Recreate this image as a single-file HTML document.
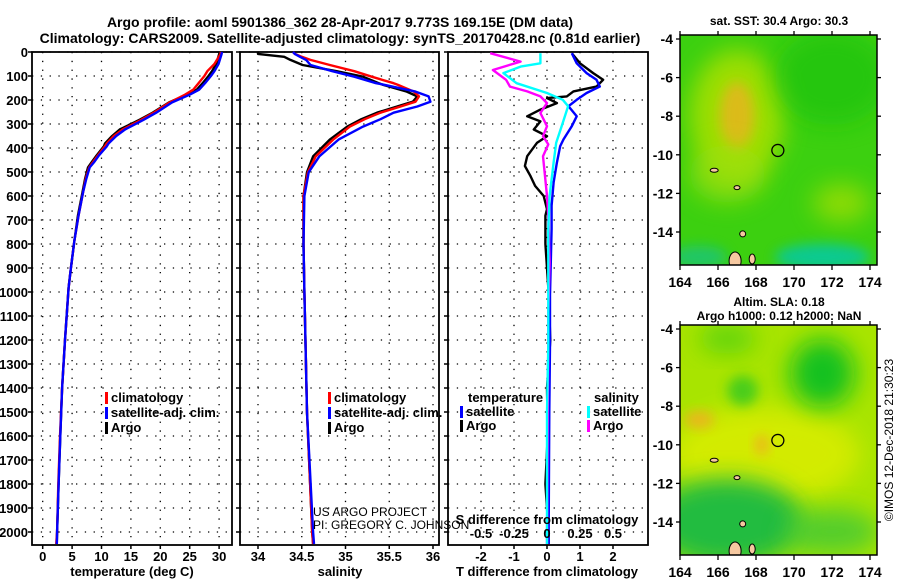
<!DOCTYPE html>
<html><head><meta charset="utf-8">
<style>
html,body{margin:0;padding:0;background:#fff;}
svg{display:block;font-family:"Liberation Sans",sans-serif;}
text{font-weight:bold;font-size:13px;fill:#000;}
</style></head>
<body>
<svg id="fig" width="900" height="580" viewBox="0 0 900 580" xmlns="http://www.w3.org/2000/svg">
<defs>
<filter id="blur6" x="-50%" y="-50%" width="200%" height="200%"><feGaussianBlur stdDeviation="6"/></filter>
<filter id="blur12" x="-50%" y="-50%" width="200%" height="200%"><feGaussianBlur stdDeviation="12"/></filter>
<clipPath id="m1clip"><rect x="680" y="35" width="197" height="230"/></clipPath>
<clipPath id="m2clip"><rect x="680" y="325" width="197" height="230"/></clipPath>
</defs>
<text x="340" y="27" text-anchor="middle" style="font-size:14px">Argo profile: aoml 5901386_362 28-Apr-2017 9.773S 169.15E (DM data)</text>
<text x="340" y="43" text-anchor="middle" style="font-size:14px">Climatology: CARS2009. Satellite-adjusted climatology: synTS_20170428.nc (0.81d earlier)</text>
<g id="panels"></g>
<g id="maps"></g>
</svg>
<script>
// ---------- data ----------
const depthLabels = [0,100,200,300,400,500,600,700,800,900,1000,1100,1200,1300,1400,1500,1600,1700,1800,1900,2000];
const tempTicks = [0,5,10,15,20,25,30];
const salTicks = [34,34.5,35,35.5,36];
const dTTicks = [-2,-1,0,1,2];
const dSTicks = [-0.5,-0.25,0,0.25,0.5];
const dSTickLabels = ["-0.5","-0.25","0","0.25","0.5"];

const depthT = [0,10,50,80,100,130,157,178,210,253,282,323,350,381,393,430,460,481,530,580,680,783,900,982,1200,1400,1600,1800,2000,2050];
const argoT = [30.1,30.0,29.5,28.8,28.2,27.2,26.2,24.5,21.5,18.7,16.5,13.1,11.8,10.6,10.4,9.2,8.3,7.7,7.2,6.8,6.0,5.4,4.8,4.4,3.8,3.3,3.0,2.7,2.45,2.4];
const climT = [30.3,30.2,29.2,28.0,27.5,26.5,25.6,24.2,21.6,18.9,16.8,13.6,12.1,10.9,10.6,9.4,8.5,7.9,7.3,6.9,6.1,5.4,4.8,4.4,3.8,3.3,2.95,2.65,2.45,2.3];
const satT = [30.5,30.4,29.9,29.2,28.6,27.6,26.6,25.0,22.0,19.3,17.2,14.0,12.5,11.2,10.9,9.6,8.7,8.0,7.4,6.9,6.1,5.4,4.8,4.4,3.8,3.3,3.0,2.7,2.45,2.4];

const depthS = [0,8,20,33,54,80,103,130,137,165,185,207,227,253,280,311,365,435,501,600,800,1000,1500,2000,2050];
const argoS = [34.0,34.0,34.3,34.37,34.51,34.9,35.2,35.38,35.43,35.7,35.82,35.77,35.59,35.36,35.18,35.02,34.82,34.63,34.56,34.52,34.52,34.53,34.56,34.62,34.63];
const climS = [34.4,34.42,34.5,34.6,34.82,35.1,35.3,35.55,35.6,35.78,35.84,35.8,35.63,35.4,35.22,35.05,34.86,34.66,34.57,34.52,34.52,34.53,34.56,34.62,34.63];
const satS = [34.4,34.42,34.48,34.55,34.6,34.85,35.1,35.35,35.45,35.8,35.95,35.97,35.82,35.55,35.4,35.2,34.92,34.7,34.58,34.53,34.52,34.53,34.56,34.63,34.64];

const depthArgoDT = [5,47,88,116,144,164,185,192,213,240,268,289,323,351,378,434,475,517,558,600,655,682,800,1000,1200,1400,1600,1800,2000,2050];
const argoDT = [0.75,1.0,1.4,1.7,1.5,0.8,0.6,0,0.3,-0.2,-0.6,-0.2,-0.4,0,-0.3,-0.6,-0.67,-0.5,-0.36,-0.1,0,-0.05,-0.05,0.05,0.1,0,0.02,-0.05,0.05,0.05];
const depthSatDT = [5,47,88,116,144,171,199,226,268,309,364,392,461,544,640,737,1013,1220,1500,2050];
const satDT = [0.75,0.9,1.2,1.5,1.6,1.2,0.9,0.65,0.9,0.75,0.5,0.4,0.3,0.2,0.14,0.14,0.09,0.09,0.07,0.05];
const depthArgoDS = [5,40,75,116,144,164,185,213,254,309,351,385,434,517,600,682,876,1082,1220,1500,2050];
const argoDS = [-0.43,-0.2,-0.41,-0.31,-0.28,-0.15,-0.05,0,-0.05,0,-0.03,0.01,-0.03,-0.015,0,0.01,0.02,0.01,0.01,0.005,0];
const depthSatDS = [5,47,61,88,130,171,199,226,295,378,461,600,737,1013,1220,1500,2050];
const satDS = [-0.05,-0.05,-0.2,-0.33,-0.23,0,0.12,0.16,0.12,0.07,0.05,0.02,0.01,0.01,0.01,0,0];

const lonTicks = [164,166,168,170,172,174];
const latTicks = [-4,-6,-8,-10,-12,-14];
const argoLon = 169.15, argoLat = -9.773;

// ---------- helpers ----------
const NS = "http://www.w3.org/2000/svg";
const panels = document.getElementById('panels');
const maps = document.getElementById('maps');
function mk(tag, attrs, parent){
  const e = document.createElementNS(NS, tag);
  for (const k in attrs) e.setAttribute(k, attrs[k]);
  (parent||panels).appendChild(e);
  return e;
}
const TOP = 52, BOT = 545;
function yD(d){ return 52 + d*0.24; }

function drawPanel(name, x0, x1, xf, ticks, tickLabels){
  const g = mk('g', {});
  
  
  ticks.forEach(t => {
    const l = mk('line', {x1:xf(t), x2:xf(t), y1:TOP, y2:BOT, stroke:'#000','stroke-width':1.3,'stroke-dasharray':'1.3 7.5'}, g);
    
    
  });
  depthLabels.forEach(d => {
    const l = mk('line', {x1:x0, x2:x1, y1:yD(d), y2:yD(d), stroke:'#000','stroke-width':1.3,'stroke-dasharray':'1.3 7.5'}, g);
    
    
    mk('line', {x1:x0-4, x2:x0, y1:yD(d), y2:yD(d), stroke:'#000','stroke-width':1.5}, g);
  });
  ticks.forEach((t,i) => {
    mk('line', {x1:xf(t), x2:xf(t), y1:BOT, y2:BOT+4, stroke:'#000','stroke-width':1.5}, g);
    if (tickLabels) {
      const tx = mk('text', {x:xf(t), y:561, 'text-anchor':'middle'}, g);
      tx.textContent = tickLabels[i];
      
      
    }
  });
  const fr = mk('rect', {x:x0, y:TOP, width:x1-x0, height:BOT-TOP, fill:'none', stroke:'#000','stroke-width':1.8}, g);
  
  
  return g;
}
function series(g, name, depths, vals, xf, color){
  const pts = depths.map((d,i) => xf(vals[i]).toFixed(1)+','+Math.min(yD(d),BOT).toFixed(1)).join(' ');
  const p = mk('polyline', {points:pts, fill:'none', stroke:color, 'stroke-width':2.4, 'stroke-linejoin':'round'}, g);
  
  
}
function label(g, name, x, y, txt, anchor, size){
  const t = mk('text', {x:x, y:y, 'text-anchor':anchor||'start'}, g);
  if (size) t.style.fontSize = size+'px';
  t.textContent = txt;
  
  
  return t;
}
function legendEntry(g, name, x, y, color, txt){
  const e = mk('g', {}, g);
  
  
  mk('rect', {x:x, y:y-10, width:3, height:12, fill:color}, e);
  const t = mk('text', {x:x+6, y:y}, e);
  t.textContent = txt;
}

// depth labels
const dl = mk('g', {});


depthLabels.forEach(d => {
  const t = mk('text', {x:28, y:yD(d)+5, 'text-anchor':'end'}, dl);
  t.textContent = d;
});

// panel 1: temperature
const xT = v => 42.7 + 5.88*v;
const p1 = drawPanel('temperature-panel', 32, 232, xT, tempTicks, tempTicks.map(String));
series(p1, 'argo-temperature-line', depthT, argoT, xT, '#000');
series(p1, 'climatology-temperature-line', depthT, climT, xT, '#f00');
series(p1, 'satellite-temperature-line', depthT, satT, xT, '#00f');
label(p1, 'temperature-x-title', 132, 576, 'temperature (deg C)', 'middle');
legendEntry(p1, 'legend-climatology', 105, 402, '#f00', 'climatology');
legendEntry(p1, 'legend-satellite-adj', 105, 417, '#00f', 'satellite-adj. clim.');
legendEntry(p1, 'legend-argo', 105, 432, '#000', 'Argo');

// panel 2: salinity
const xS = v => 258 + 87.5*(v-34);
const p2 = drawPanel('salinity-panel', 240, 439, xS, salTicks, salTicks.map(String));
series(p2, 'argo-salinity-line', depthS, argoS, xS, '#000');
series(p2, 'climatology-salinity-line', depthS, climS, xS, '#f00');
series(p2, 'satellite-salinity-line', depthS, satS, xS, '#00f');
label(p2, 'salinity-x-title', 340, 576, 'salinity', 'middle');
legendEntry(p2, 'legend-climatology-2', 328, 402, '#f00', 'climatology');
legendEntry(p2, 'legend-satellite-adj-2', 328, 417, '#00f', 'satellite-adj. clim.');
legendEntry(p2, 'legend-argo-2', 328, 432, '#000', 'Argo');

// panel 3: differences
const xDT = v => 547 + 33*v;
const xDS = v => 547 + 132*v;
const p3 = drawPanel('difference-panel', 448, 648, xDT, dTTicks, dTTicks.map(String));
series(p3, 'argo-temperature-diff-line', depthArgoDT, argoDT, xDT, '#000');
series(p3, 'satellite-temperature-diff-line', depthSatDT, satDT, xDT, '#00f');
series(p3, 'argo-salinity-diff-line', depthArgoDS, argoDS, xDS, '#f0f');
series(p3, 'satellite-salinity-diff-line', depthSatDS, satDS, xDS, '#0ff');
dSTicks.forEach((t,i) => {
  label(p3, 'salinity-diff-tick-label', xDS(t), 538, dSTickLabels[i], 'middle');
});
label(p3, 'salinity-diff-x-title', 547, 524, 'S difference from climatology', 'middle');
label(p3, 'temperature-diff-x-title', 547, 576, 'T difference from climatology', 'middle');
label(p3, 'legend-temperature-heading', 468, 402, 'temperature');
legendEntry(p3, 'legend-temp-satellite', 460, 416, '#00f', 'satellite');
legendEntry(p3, 'legend-temp-argo', 460, 430, '#000', 'Argo');
label(p3, 'legend-salinity-heading', 594, 402, 'salinity');
legendEntry(p3, 'legend-sal-satellite', 587, 416, '#0ff', 'satellite');
legendEntry(p3, 'legend-sal-argo', 587, 430, '#f0f', 'Argo');

// credits
const c1 = label(panels, 'project-credit', 313, 516, 'US ARGO PROJECT', 'start', 12);
c1.style.fontWeight = 'normal';
const c2 = label(panels, 'pi-credit', 313, 529, 'PI: GREGORY C. JOHNSON', 'start', 12);
c2.style.fontWeight = 'normal';
const cr = label(panels, 'imos-timestamp', 0, 0, '©IMOS 12-Dec-2018 21:30:23', 'middle', 12);
cr.style.fontWeight = 'normal';
cr.setAttribute('transform', 'translate(893,440) rotate(-90)');

// ---------- maps ----------
function drawMap(name, top, clipId, title1, title2, blobs, base){
  const g = mk('g', {}, maps);
  
  
  const xL = lon => 680 + 19*(lon-164);
  const yL = lat => top + 4 + 19.3*(-4 - lat);
  const body = mk('g', {'clip-path':'url(#'+clipId+')'}, g);
  mk('rect', {x:680, y:top, width:197, height:230, fill:base}, body);
  blobs.forEach(b => {
    mk('ellipse', {cx:xL(b[0]), cy:yL(b[1]), rx:b[2]*19, ry:b[3]*19, fill:b[4], filter:'url(#'+b[5]+')', opacity:b[6]}, body);
  });
  [[166.9,-15.5,6,9],[167.8,-15.4,3,5],[167.3,-14.1,3,3],[165.8,-10.8,4,2],[167,-11.7,3,2]].forEach(s => {
    mk('ellipse', {cx:xL(s[0]), cy:yL(s[1]), rx:s[2], ry:s[3], fill:'#f5c8a0', stroke:'#000','stroke-width':1}, body);
  });
  const c = mk('circle', {cx:xL(argoLon), cy:yL(argoLat), r:6, fill:'none', stroke:'#000','stroke-width':1.3}, g);
  
  
  mk('rect', {x:680, y:top, width:197, height:230, fill:'none', stroke:'#000','stroke-width':1.5}, g);
  lonTicks.forEach(l => {
    mk('line', {x1:xL(l), x2:xL(l), y1:top+230, y2:top+235, stroke:'#000','stroke-width':1.3}, g);
    mk('line', {x1:xL(l), x2:xL(l), y1:top, y2:top-4, stroke:'#000','stroke-width':1.3}, g);
    const t = mk('text', {x:xL(l), y:top+252, 'text-anchor':'middle'}, g);
    t.textContent = l;
    t.style.fontSize = '14px';
  });
  latTicks.forEach(l => {
    mk('line', {x1:676, x2:680, y1:yL(l), y2:yL(l), stroke:'#000','stroke-width':1.3}, g);
    mk('line', {x1:877, x2:881, y1:yL(l), y2:yL(l), stroke:'#000','stroke-width':1.3}, g);
    const t = mk('text', {x:673, y:yL(l)+5, 'text-anchor':'end'}, g);
    t.textContent = l;
    t.style.fontSize = '14px';
  });
  if (title2) {
    label(g, 'map-title', 779, top-19, title1, 'middle', 12);
    label(g, 'map-subtitle', 779, top-5, title2, 'middle', 12);
  } else {
    label(g, 'map-title', 779, top-10, title1, 'middle', 12);
  }
}
drawMap('sst-map', 35, 'm1clip', 'sat. SST: 30.4 Argo: 30.3', null, [
  [167,-8,2.5,3.5,'#a8e000','blur12',0.9],
  [167,-8,0.9,1.8,'#f0b020','blur6',0.75],
  [166.5,-11,2,1.5,'#a0e010','blur12',0.7],
  [172.5,-12.5,1.5,1,'#b0e000','blur12',0.7],
  [171.5,-15.3,2.5,0.7,'#00c8b0','blur6',0.8],
  [165,-15.3,1.5,0.6,'#10c0a0','blur6',0.6],
  [172,-6,3,2.5,'#18c010','blur12',0.6]
], '#3cd010');
drawMap('sla-map', 325, 'm2clip', 'Altim. SLA: 0.18', 'Argo h1000: 0.12 h2000: NaN', [
  [168.5,-10.5,5,2.5,'#d8ec00','blur12',0.9],
  [171.5,-6.3,1.7,1.8,'#10c020','blur12',0.95],
  [167.3,-7.2,0.8,0.8,'#30c820','blur6',0.8],
  [166.5,-4.5,1.5,0.8,'#50d010','blur12',0.8],
  [166.5,-14,4,2.3,'#20bc40','blur12',1],
  [172,-14.5,2.5,1.2,'#40c838','blur12',0.8],
  [165,-8.7,0.8,0.45,'#f0b020','blur6',0.9],
  [168.3,-10,0.35,0.55,'#f0b020','blur6',0.9]
], '#a8e400');
</script>
</body></html>
